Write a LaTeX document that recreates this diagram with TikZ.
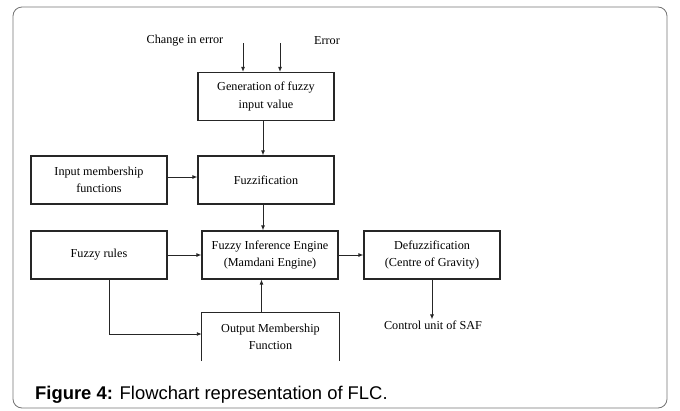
\documentclass[tikz,border=0pt]{standalone}
\usepackage{fontspec}
\setmainfont{Liberation Serif}
\setsansfont{Liberation Sans}
\usetikzlibrary{arrows.meta}

\begin{document}
\begin{tikzpicture}[
  x=1pt, y=-1pt,
  block/.style={draw=black!85, line width=1.2pt, minimum width=136pt, minimum height=48pt, inner sep=0pt, align=center, font=\fontsize{12.2}{17.5}\selectfont},
  label/.style={inner sep=1pt, font=\fontsize{12.2}{17.5}\selectfont},
  line/.style={draw=black!85, line width=0.9pt},
  arrow/.style={line, -{Latex[length=5pt,width=4pt]}}
]
\useasboundingbox (0,0) rectangle (680,410);
\draw[black!55, line width=0.8pt, rounded corners=9pt] (13,7) rectangle (667,408);

\node[label] (cin) at (185,41) {Change in error};
\node[label] (err) at (327,41) {Error};
\node[block] (gen) at (266,96.5) {Generation of fuzzy\\input value};
\node[block] (fuzz) at (266,180) {Fuzzification};
\node[block] (inmf) at (99,180) {Input membership\\functions};
\node[block] (fie) at (270,255) {Fuzzy Inference Engine\\(Mamdani Engine)};
\node[block] (rules) at (99,255) {Fuzzy rules};
\node[block] (defuzz) at (432,255) {Defuzzification\\(Centre of Gravity)};
\node[label, minimum width=137pt, minimum height=48pt, align=center] (outmf) at (270.5,337) {Output Membership\\Function};
\node[label] (ctrl) at (433,325) {Control unit of SAF};

\coordinate (cinin) at (243,43);
\coordinate (errin) at (280,43);

% open box at the bottom
\draw[line, line width=1.2pt] (outmf.south west) -- (outmf.north west) -- (outmf.north east) -- (outmf.south east);

\draw[arrow] (cinin) -- (cinin |- gen.north);
\draw[arrow] (errin) -- (errin |- gen.north);
\draw[arrow] ([xshift=-3pt]gen.south) -- ([xshift=-3pt]gen.south |- fuzz.north);
\draw[arrow] ([yshift=3pt]inmf.east) -- ([yshift=3pt]fuzz.west);
\draw[arrow] ([xshift=-3pt]fuzz.south) -- ([xshift=-3pt]fuzz.south |- fie.north);
\draw[arrow] (rules.east) -- (fie.west);
\draw[arrow] (fie.east) -- (defuzz.west);
\draw[arrow] ([xshift=-9pt]outmf.north) -- ([xshift=-9pt]outmf.north |- fie.south);
\draw[arrow] ([xshift=10pt]rules.south) |- ([yshift=3pt]outmf.west);
\draw[arrow] (defuzz.south) -- (defuzz.south |- ctrl.north);

\node[anchor=west, inner sep=0pt, font=\sffamily\fontsize{18.4}{22}\selectfont] (caption) at (35,395) {\textbf{Figure 4:} Flowchart representation of FLC.};
\end{tikzpicture}
\end{document}
